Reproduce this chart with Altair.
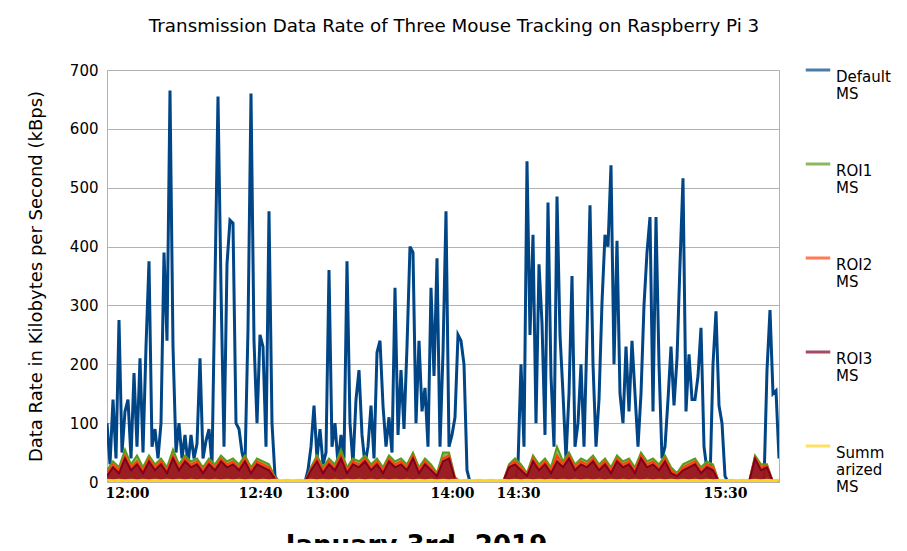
import altair as alt
import pandas as pd

SERIES = ["Default|MS", "ROI1|MS", "ROI2|MS", "ROI3|MS", "Summ|arized|MS"]
COLORS = ["#004586", "#579d1c", "#ff420e", "#7e0021", "#ffd320"]

# Default MS, one sample every 3 units of the x index
default_ms = [
    100, 30, 140, 40, 275, 50, 120, 140, 40, 185, 60, 210, 50, 230, 375, 60, 90, 40, 100, 390,
    240, 665, 230, 50, 100, 40, 80, 30, 80, 40, 65, 210, 40, 70, 90, 30, 340, 655, 330, 60,
    370, 445, 440, 100, 90, 50, 30, 260, 660, 240, 100, 250, 230, 60, 460, 100, 10,
    0, 0, 0, 0, 0, 0, 0, 0, 0, 0,
    20, 60, 130, 40, 90, 30, 50, 360, 60, 100, 30, 80, 40, 375, 100, 30, 140, 190, 80, 30,
    60, 130, 40, 220, 240, 130, 60, 110, 50, 330, 80, 190, 90, 230, 400, 390, 100, 240, 120, 160,
    60, 330, 180, 380, 60, 220, 460, 60, 80, 110, 250, 240, 200, 20,
    0, 0, 0, 0, 0, 0, 0, 0, 0, 0, 0, 0, 0, 0, 0, 0,
    30, 200, 60, 545, 250, 420, 100, 370, 270, 80, 475, 180, 60, 485, 250, 150, 40, 150, 350, 60,
    100, 200, 60, 250, 470, 200, 60, 140, 305, 420, 400, 538, 200, 410, 150, 100, 230, 120, 240, 150,
    60, 150, 300, 390, 450, 120, 450, 200, 40, 60, 140, 230, 130, 210, 370, 516, 120, 217, 140, 140,
    180, 262, 60, 20, 0, 200, 290, 130, 100, 10,
    0, 0, 0, 0, 0, 0, 0, 0, 0, 0, 0, 0, 0,
    190, 292, 150, 155, 40,
]

# ROI series, one sample every 6 units of the x index
roi1_ms = (
    [20, 35, 25, 55, 30, 45, 25, 45, 30, 40, 25, 55, 30, 45, 35, 40, 25, 40, 30, 45, 35, 40, 30, 45, 25, 40, 35, 30, 8]
    + [0, 0, 0, 0, 0]
    + [25, 45, 25, 40, 30, 55, 25, 40, 35, 45, 30, 40, 25, 45, 35, 40, 30, 50, 25, 40, 30, 15, 50, 50, 8]
    + [0, 0, 0, 0, 0, 0, 0, 0]
    + [30, 40, 30, 15, 45, 30, 40, 25, 60, 35, 50, 30, 40, 35, 45, 30, 40, 25, 45, 35, 40, 25, 50, 35, 40, 30, 45, 25, 15, 30, 35, 40, 25, 35, 30]
    + [0, 0, 0, 0, 0]
    + [0, 45, 30, 30, 0, 0]
)
roi2_ms = (
    [15, 30, 20, 45, 25, 35, 20, 40, 25, 35, 20, 45, 25, 40, 30, 35, 20, 35, 25, 40, 30, 35, 25, 40, 20, 35, 30, 25, 6]
    + [0, 0, 0, 0, 0]
    + [22, 40, 20, 35, 25, 45, 20, 35, 30, 40, 25, 35, 20, 40, 30, 35, 25, 45, 20, 35, 25, 12, 40, 45, 6]
    + [0, 0, 0, 0, 0, 0, 0, 0]
    + [28, 35, 25, 12, 40, 25, 35, 20, 45, 30, 45, 25, 35, 30, 40, 25, 35, 20, 40, 30, 35, 20, 45, 30, 35, 25, 40, 20, 12, 25, 30, 35, 20, 30, 25]
    + [0, 0, 0, 0, 0]
    + [0, 42, 25, 28, 0, 0]
)
roi3_ms = (
    [10, 25, 15, 40, 20, 30, 15, 35, 20, 30, 15, 40, 20, 35, 25, 30, 15, 30, 20, 35, 25, 30, 20, 35, 15, 30, 25, 20, 5]
    + [0, 0, 0, 0, 0]
    + [20, 35, 15, 30, 20, 40, 15, 30, 25, 35, 20, 30, 15, 35, 25, 30, 20, 40, 15, 30, 20, 10, 35, 40, 5]
    + [0, 0, 0, 0, 0, 0, 0, 0]
    + [25, 30, 20, 10, 35, 20, 30, 15, 35, 25, 40, 20, 30, 25, 35, 20, 30, 15, 35, 25, 30, 15, 40, 25, 30, 20, 35, 15, 10, 20, 25, 30, 15, 25, 20]
    + [0, 0, 0, 0, 0]
    + [0, 40, 20, 25, 0, 0]
)
summarized_ms = [3, 2] * 56 + [3]

tick_pos = [20, 153, 220, 345, 411, 618]
tick_text = ["12:00", "12:40", "13:00", "14:00", "14:30", "15:30"]

def frame(name, values, step):
    return pd.DataFrame({"idx": [i * step for i in range(len(values))], "rate": values, "series": name})

label_expr = " : ".join(
    f"datum.value == {p} ? '{t}'" for p, t in zip(tick_pos, tick_text)
) + " : ''"

color = alt.Color(
    "series:N",
    scale=alt.Scale(domain=SERIES, range=COLORS),
    legend=alt.Legend(
        title=None, symbolType="stroke", symbolStrokeWidth=3, symbolSize=600,
        labelExpr="split(datum.label, '|')", labelFont="DejaVu Sans", labelFontSize=15,
        labelColor="#000", rowPadding=48, padding=0, labelBaseline="top",
        labelOffset=4, orient="none", legendX=697, legendY=-14,
    ),
)

x_enc = alt.X("idx:Q", scale=alt.Scale(domain=[0, 672], nice=False),
              axis=alt.Axis(values=tick_pos, labelExpr=label_expr, grid=False, ticks=False,
                            domain=False, labelFont="DejaVu Serif", labelFontWeight="bold",
                            labelFontSize=14, labelColor="#000", labelPadding=4,
                            title="January 3rd, 2019", titleFont="DejaVu Sans",
                            titleFontSize=26, titleFontWeight="bold", titleColor="#000",
                            titleX=309, titleY=50))
y_enc = alt.Y("rate:Q", scale=alt.Scale(domain=[0, 700], nice=False),
              axis=alt.Axis(values=list(range(0, 701, 100)), gridColor="#b3b3b3", ticks=False,
                            domain=False, labelFont="DejaVu Sans", labelFontSize=15,
                            labelColor="#000", labelPadding=9,
                            title="Data Rate in Kilobytes per Second (kBps)",
                            titleFont="DejaVu Sans", titleFontSize=18, titleFontWeight="normal",
                            titleColor="#000", titlePadding=24))

def line_layer(df, width):
    return alt.Chart(df).mark_line(strokeWidth=width, clip=True).encode(x=x_enc, y=y_enc, color=color)

def area_layer(df):
    return alt.Chart(df).mark_area(line=True, clip=True).encode(
        x=x_enc, y=alt.Y("rate:Q", stack=None, scale=alt.Scale(domain=[0, 700], nice=False)),
        color=color,
    )

chart = alt.layer(
    line_layer(frame(SERIES[0], default_ms, 3), 3),
    area_layer(frame(SERIES[1], roi1_ms, 6)),
    area_layer(frame(SERIES[2], roi2_ms, 6)),
    area_layer(frame(SERIES[3], roi3_ms, 6)),
    line_layer(frame(SERIES[4], summarized_ms, 6), 3),
).properties(
    width=672, height=412,
    title=alt.Title("Transmission Data Rate of Three Mouse Tracking on Raspberry Pi 3",
                    font="DejaVu Sans", fontSize=18.3, fontWeight="normal", color="#000",
                    offset=20, dx=11),
    autosize=alt.AutoSizeParams(type="none"),
    padding={"left": 99, "top": 62, "right": 120, "bottom": 61},
).configure_view(stroke="#b3b3b3")

chart.save("out.html", embed_options={"renderer": "svg", "actions": False})
